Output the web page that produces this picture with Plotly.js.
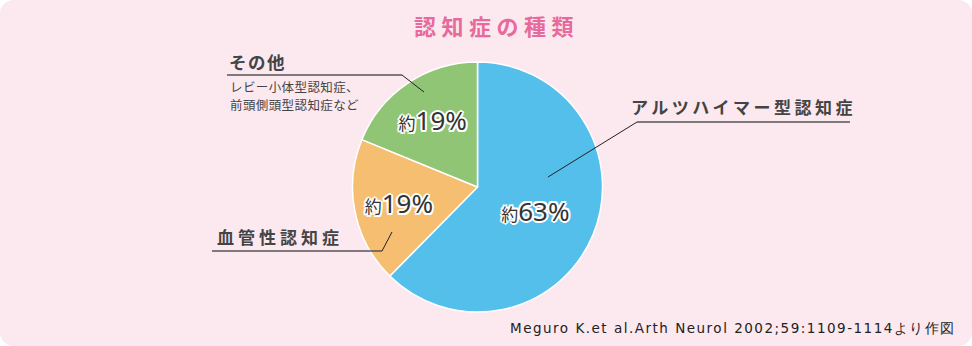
<!DOCTYPE html>
<html><head><meta charset="utf-8">
<script src="https://cdn.plot.ly/plotly-3.0.1.min.js"></script>
<style>
html,body{margin:0;padding:0;background:#fff;}
#wrap{width:972px;height:346px;background:#fce8ef;border-radius:14px;overflow:hidden;}
</style></head><body><div id="wrap"><div id="chart"></div></div>
<script>
const categories = ['アルツハイマー型認知症', '血管性認知症', 'その他'];
const values = [63, 19, 19];
const sliceColors = ['#55bfeb', '#f5be70', '#91c576'];
const otherNote = ['レビー小体型認知症、', '前頭側頭型認知症など'];
const titleText = '認知症の種類';
const sourceText = 'Meguro K.et al.Arth Neurol 2002;59:1109-1114より作図';

const W = 972, H = 346;
const px = x => x / W;
const py = y => 1 - y / H;
const cx = 477.5, cy = 187, R = 125;

const outline = '2px 0 0 #fff, -2px 0 0 #fff, 0 2px 0 #fff, 0 -2px 0 #fff, 1.5px 1.5px 0 #fff, -1.5px -1.5px 0 #fff, 1.5px -1.5px 0 #fff, -1.5px 1.5px 0 #fff';

const trace = {
  type: 'pie',
  labels: categories,
  values: values,
  sort: false,
  direction: 'clockwise',
  rotation: 0,
  marker: {colors: sliceColors, line: {color: '#ffffff', width: 1.5}},
  textposition: 'inside',
  insidetextorientation: 'horizontal',
  texttemplate: "<span style='font-size:17px'>約</span>%{value}%",
  textfont: {family: '"Noto Sans", "Noto Sans CJK JP", sans-serif', size: 26, color: '#333333', shadow: outline},
  hoverinfo: 'skip',
  domain: {x: [px(cx - R), px(cx + R)], y: [py(cy + R), py(cy - R)]}
};

const shapes = [
  // Alzheimer
  {type: 'line', xref: 'paper', yref: 'paper', x0: px(637), y0: py(122), x1: px(850), y1: py(122), line: {color: '#555555', width: 1.6}},
  {type: 'line', xref: 'paper', yref: 'paper', x0: px(637), y0: py(122), x1: px(548), y1: py(177), line: {color: '#222222', width: 1}},
  // Other
  {type: 'line', xref: 'paper', yref: 'paper', x0: px(227), y0: py(75), x1: px(402), y1: py(75), line: {color: '#555555', width: 1.6}},
  {type: 'line', xref: 'paper', yref: 'paper', x0: px(402), y0: py(75), x1: px(424), y1: py(92), line: {color: '#222222', width: 1}},
  // Vascular
  {type: 'line', xref: 'paper', yref: 'paper', x0: px(212), y0: py(251), x1: px(382), y1: py(251), line: {color: '#555555', width: 1.6}},
  {type: 'line', xref: 'paper', yref: 'paper', x0: px(382), y0: py(251), x1: px(392), y1: py(232), line: {color: '#222222', width: 1}}
];

const jp = '"Noto Sans CJK JP", "Noto Sans", sans-serif';
const sp = (t, s) => "<span style='letter-spacing:" + s + "px'>" + t + "</span>";
const ann = (text, x, y, size, opts) => Object.assign({
  text: text, xref: 'paper', yref: 'paper', x: px(x), y: py(y),
  xanchor: 'left', yanchor: 'middle', showarrow: false,
  font: {family: jp, size: size, color: '#444444', weight: 'bold'}
}, opts || {});

const noteFont = {family: jp, size: 12.5, color: '#444444'};
const annotations = [
  ann(sp(titleText, 5.5), 496, 25, 22, {xanchor: 'center', font: {family: jp, size: 22, color: '#e8699c', weight: 'bold'}}),
  ann(sp(categories[0], 3.5), 629, 106, 17),
  ann(sp(categories[1], 4), 215, 236, 17),
  ann(sp(categories[2], 1.5), 227, 62, 17.5),
  ann(sp(otherNote[0], 0.4), 228, 87, 12.5, {font: noteFont}),
  ann(sp(otherNote[1], 0.4), 228, 104, 12.5, {font: noteFont}),
  ann(sp(sourceText, 1.5), 958, 328, 13.5, {xanchor: 'right', font: {family: '"DejaVu Sans", Verdana, sans-serif', size: 13.5, color: '#222222'}})
];

const layout = {
  width: W, height: H,
  margin: {l: 0, r: 0, t: 0, b: 0},
  paper_bgcolor: 'rgba(0,0,0,0)',
  plot_bgcolor: 'rgba(0,0,0,0)',
  showlegend: false,
  shapes: shapes,
  annotations: annotations
};

Plotly.newPlot('chart', [trace], layout, {displayModeBar: false, staticPlot: true});
</script></body></html>
